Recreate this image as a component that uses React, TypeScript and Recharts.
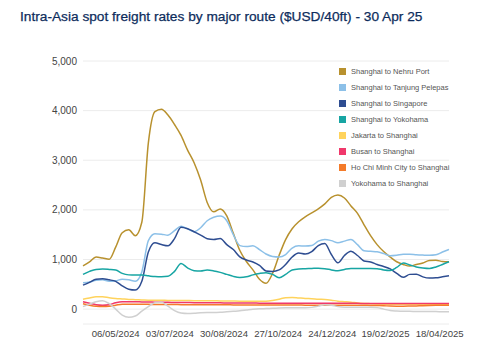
import { LineChart, Line, XAxis, YAxis, CartesianGrid, Legend } from 'recharts'

// weekly observations (Mondays)
const weeks = [
  '2024-04-01', '2024-04-08', '2024-04-15', '2024-04-22', '2024-04-29', '2024-05-06', '2024-05-13', '2024-05-20',
  '2024-05-27', '2024-06-03', '2024-06-10', '2024-06-17', '2024-06-24', '2024-07-01', '2024-07-08', '2024-07-15',
  '2024-07-22', '2024-07-29', '2024-08-05', '2024-08-12', '2024-08-19', '2024-08-26', '2024-09-02', '2024-09-09',
  '2024-09-16', '2024-09-23', '2024-09-30', '2024-10-07', '2024-10-14', '2024-10-21', '2024-10-28', '2024-11-04',
  '2024-11-11', '2024-11-18', '2024-11-25', '2024-12-02', '2024-12-09', '2024-12-16', '2024-12-23', '2024-12-30',
  '2025-01-06', '2025-01-13', '2025-01-20', '2025-01-27', '2025-02-03', '2025-02-10', '2025-02-17', '2025-02-24',
  '2025-03-03', '2025-03-10', '2025-03-17', '2025-03-24', '2025-03-31', '2025-04-07', '2025-04-14', '2025-04-21',
  '2025-04-28'
]

const tickLabels = ['06/05/2024', '03/07/2024', '30/08/2024', '27/10/2024', '24/12/2024', '19/02/2025', '18/04/2025']
const yTicks = [0, 1000, 2000, 3000, 4000, 5000]

const nehruPort = [
  870, 950, 1050, 1030, 1005, 1250, 1540, 1600, 1480, 1750,
  3350, 3980, 4030, 3910, 3720, 3500, 3205, 2950, 2600, 2150,
  1960, 2020, 1880, 1526, 1180, 960, 790, 600, 520, 720,
  1080, 1400, 1620, 1760, 1860, 1940, 2020, 2120, 2250, 2298,
  2240, 2080, 1929, 1700, 1480, 1300, 1160, 1050, 954, 900,
  867, 900, 930, 980, 985, 960, 954
]
const tanjungPelepas = [
  530, 545, 580, 590, 560, 570, 600, 590, 560, 750,
  1380, 1520, 1510, 1490, 1580, 1670, 1620, 1560, 1640, 1780,
  1850, 1875, 1780, 1500, 1280, 1260, 1276, 1200, 1110, 1060,
  1050, 1100, 1230, 1275, 1270, 1280, 1370, 1405, 1380, 1337,
  1370, 1405, 1300, 1176, 1165, 1155, 1120, 1075, 1085, 1105,
  1105, 1095, 1089, 1085, 1095, 1150, 1203
]
const singapore = [
  484, 540, 600, 610, 590, 560, 470, 400, 383, 560,
  1150, 1335, 1300, 1276, 1420, 1650, 1620, 1560, 1492, 1420,
  1405, 1425, 1300, 1200, 1054, 990, 950, 880, 770, 760,
  790, 900, 1050, 1130, 1110, 1160, 1280, 1320, 1100, 934,
  1080, 1165, 1080, 970, 950, 900, 860, 810, 720, 640,
  700, 705, 650, 625, 630, 650, 671
]
const yokohama = [
  699, 760, 800, 806, 800, 790, 720, 690, 685, 685,
  670, 655, 651, 660, 760, 920, 830, 775, 766, 786,
  770, 740, 700, 660, 639, 650, 690, 719, 735, 700,
  630, 700, 790, 810, 815, 820, 825, 815, 790, 772,
  800, 820, 820, 820, 820, 815, 790, 780, 840, 930,
  890, 850, 830, 820, 850, 900, 954
]
const jakarta = [
  200, 225, 250, 250, 230, 215, 205, 195, 190, 185,
  180, 180, 178, 176, 175, 175, 172, 170, 170, 168,
  168, 165, 165, 162, 160, 160, 158, 158, 160, 175,
  200, 230, 235, 225, 215, 210, 200, 195, 180, 160,
  150, 140, 125, 115, 110, 105, 100, 100, 98, 98,
  100, 100, 100, 98, 100, 100, 100
]
const busan = [
  150, 120, 90, 80, 90, 130, 150, 150, 150, 145,
  142, 140, 138, 136, 135, 134, 132, 130, 130, 128,
  128, 126, 125, 125, 124, 122, 122, 120, 120, 120,
  120, 120, 118, 118, 118, 118, 118, 117, 117, 116,
  116, 116, 116, 115, 115, 115, 115, 114, 114, 114,
  114, 114, 114, 114, 114, 114, 114
]
const hoChiMinh = [
  110, 80, 60, 55, 60, 80, 100, 100, 100, 98,
  96, 95, 94, 92, 92, 90, 90, 90, 88, 88,
  88, 86, 86, 85, 85, 85, 84, 84, 83, 83,
  82, 82, 82, 81, 80, 80, 80, 80, 80, 80,
  80, 78, 78, 76, 75, 72, 68, 62, 60, 60,
  62, 65, 70, 75, 78, 80, 80
]
const yokohamaShanghai = [
  50, 100, 150, 170, 110, 0, -120, -165, -140, -40,
  50, 130, 140, 60, -30, -80, -90, -85, -75, -70,
  -70, -65, -55, -45, -35, -20, -5, 5, 10, 15,
  20, 25, 30, 30, 30, 35, 60, 90, 80, 50,
  40, 40, 40, 40, 40, 30, 0, -30, -40, -45,
  -45, -50, -50, -50, -50, -55, -55
]

const routes = [
  { key: 'nehru', name: 'Shanghai to Nehru Port', color: '#b8912e', values: nehruPort },
  { key: 'pelepas', name: 'Shanghai to Tanjung Pelepas', color: '#8cc0e8', values: tanjungPelepas },
  { key: 'singapore', name: 'Shanghai to Singapore', color: '#2e4d91', values: singapore },
  { key: 'yokohama', name: 'Shanghai to Yokohama', color: '#17a5a3', values: yokohama },
  { key: 'jakarta', name: 'Jakarta to Shanghai', color: '#ffd35c', values: jakarta },
  { key: 'busan', name: 'Busan to Shanghai', color: '#f0386b', values: busan },
  { key: 'hcm', name: 'Ho Chi Minh City to Shanghai', color: '#f47b2a', values: hoChiMinh },
  { key: 'yokoSha', name: 'Yokohama to Shanghai', color: '#d0d0d0', values: yokohamaShanghai }
]

const FONT = '"Liberation Sans", Arial, sans-serif'

const fromIso = (s: string) => {
  const [y, m, d] = s.split('-').map(Number)
  return Date.UTC(y, m - 1, d)
}
const fromDmy = (s: string) => {
  const [d, m, y] = s.split('/').map(Number)
  return Date.UTC(y, m - 1, d)
}
const pad = (n: number) => (n < 10 ? '0' + n : '' + n)
const fmtDate = (t: number) => {
  const d = new Date(t)
  return `${pad(d.getUTCDate())}/${pad(d.getUTCMonth() + 1)}/${d.getUTCFullYear()}`
}

const data = weeks.map((w, i) => {
  const row: Record<string, number> = { t: fromIso(w) }
  routes.forEach(r => { row[r.key] = r.values[i] })
  return row
})

// keep the legend in series order (recharts sorts payload by name)
function LegendList() {
  return (
    <div style={{ fontFamily: FONT, fontSize: 7.5, color: '#555' }}>
      {routes.map(r => (
        <div key={r.key} style={{ display: 'flex', alignItems: 'center', height: 16 }}>
          <span style={{ width: 7, height: 7, background: r.color, marginRight: 5, display: 'inline-block' }} />
          <span>{r.name}</span>
        </div>
      ))}
    </div>
  )
}

export default function App() {
  return (
    <div style={{ position: 'absolute', left: 0, top: 0, width: 480, height: 360, background: '#fff' }}>
      <div
        style={{
          position: 'absolute',
          left: 20,
          top: 9,
          fontFamily: FONT,
          fontSize: 13.7,
          lineHeight: '16px',
          color: '#0d2c5c',
          WebkitTextStroke: '0.25px #0d2c5c',
          whiteSpace: 'nowrap'
        }}
      >
        Intra-Asia spot freight rates by major route ($USD/40ft) - 30 Apr 25
      </div>
      <LineChart
        width={480}
        height={360}
        data={data}
        margin={{ top: 61, right: 31, left: 0, bottom: 6 }}
        style={{ fontFamily: FONT }}
      >
        <CartesianGrid vertical={false} stroke="#ececec" />
        <XAxis
          type="number"
          dataKey="t"
          domain={[data[0].t, data[data.length - 1].t]}
          ticks={tickLabels.map(fromDmy)}
          tickFormatter={fmtDate}
          interval={0}
          axisLine={false}
          tickLine={false}
          tickMargin={0}
          height={30}
          tick={{ fontSize: 9.6, fill: '#444' }}
        />
        <YAxis
          domain={[-300, 5000]}
          ticks={yTicks}
          tickFormatter={(v: number) => v.toLocaleString('en-US')}
          axisLine={false}
          tickLine={false}
          tickMargin={0}
          width={83}
          tick={{ fontSize: 10, fill: '#444' }}
        />
        <Legend
          layout="vertical"
          align="center"
          verticalAlign="middle"
          content={<LegendList />}
          wrapperStyle={{ left: 339, top: 63, width: 140 }}
        />
        {routes.map(r => (
          <Line
            key={r.key}
            type="monotone"
            dataKey={r.key}
            name={r.name}
            stroke={r.color}
            strokeWidth={1.5}
            dot={false}
            isAnimationActive={false}
          />
        ))}
      </LineChart>
    </div>
  )
}
